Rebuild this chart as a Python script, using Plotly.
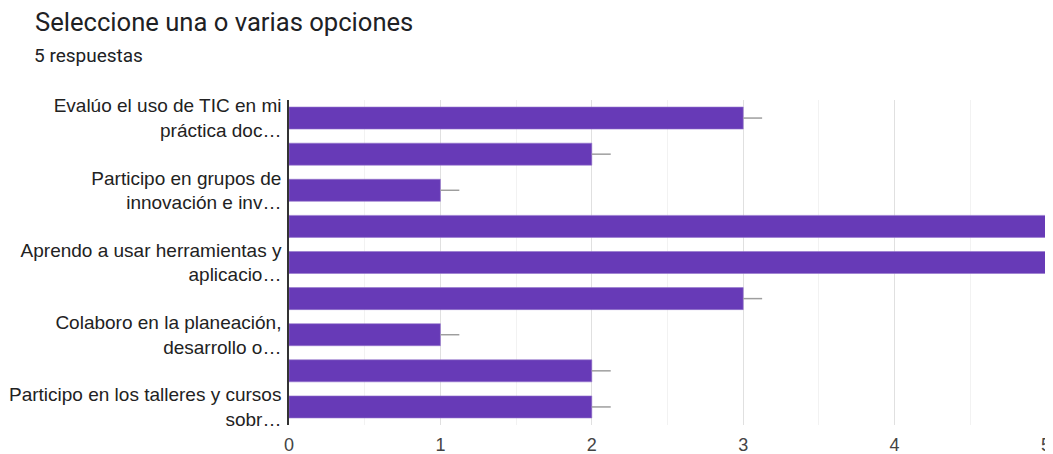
import plotly.graph_objects as go

categories = [
    "Evalúo el uso de TIC en mi<br>práctica doc…",
    "Opción 2",
    "Participo en grupos de<br>innovación e inv…",
    "Opción 4",
    "Aprendo a usar herramientas y<br>aplicacio…",
    "Opción 6",
    "Colaboro en la planeación,<br>desarrollo o…",
    "Opción 8",
    "Participo en los talleres y cursos<br>sobr…",
]
values = [3, 2, 1, 5, 5, 3, 1, 2, 2]
shown_labels = categories[0::2]
x_ticks = [0, 1, 2, 3, 4, 5]

# page body has an 8px margin; figure coordinates are offset accordingly
W, H = 1045, 446
ML, MR, MT, MB = 281, 7, 92, 29
PW, PH = W - ML - MR, H - MT - MB

fig = go.Figure()
fig.add_trace(go.Bar(
    y=categories,
    x=values,
    orientation="h",
    marker=dict(color="#673ab7", line=dict(color="#9575cd", width=0.6)),
    error_x=dict(type="data", symmetric=False, array=[0.125] * len(values),
                 arrayminus=[0] * len(values), width=0, color="#9e9e9e", thickness=1.5),
    width=0.61,
    hoverinfo="x+y",
))

fig.update_layout(
    width=W, height=H,
    margin=dict(l=ML, r=MR, t=MT, b=MB, pad=0, autoexpand=False),
    paper_bgcolor="white",
    plot_bgcolor="white",
    font=dict(family="Arial, 'Liberation Sans', sans-serif", color="#222222", size=19),
    showlegend=False,
    title=dict(
        text="Seleccione una o varias opciones",
        font=dict(size=25.6, color="#202124", family="Roboto, Arial, sans-serif"),
        xref="container", yref="container",
        x=27 / W, xanchor="left",
        y=1 - 14 / H, yanchor="middle",
    ),
    annotations=[dict(
        text="5 respuestas",
        xref="paper", yref="paper",
        x=(24 - ML) / PW, xanchor="left",
        y=(H - MB - 47) / PH, yanchor="middle",
        showarrow=False,
        font=dict(size=19, color="#202124", family="Roboto, Arial, sans-serif"),
    )],
    xaxis=dict(
        range=[0, 5],
        tickvals=x_ticks,
        ticktext=[str(v) for v in x_ticks],
        showgrid=True, gridcolor="#e0e0e0", gridwidth=1,
        minor=dict(dtick=0.5, showgrid=True, gridcolor="#f2f2f2", gridwidth=1),
        zeroline=False,
        showline=False,
        tickfont=dict(size=18, color="#444444", family="Arial, 'Liberation Sans', sans-serif"),
        ticks="", ticklen=0,
        ticklabeloverflow="allow",
        ticklabelstandoff=7,
        automargin=False,
        fixedrange=True,
    ),
    yaxis=dict(
        type="category",
        categoryorder="array",
        categoryarray=categories,
        autorange="reversed",
        tickvals=shown_labels,
        ticktext=shown_labels,
        tickfont=dict(size=19, color="#222222", family="Arial, 'Liberation Sans', sans-serif"),
        showgrid=False,
        showline=True, linecolor="#333333", linewidth=1.5,
        ticks="", ticklabelstandoff=2,
        automargin=False,
        fixedrange=True,
    ),
)

fig.write_html("out.html")
